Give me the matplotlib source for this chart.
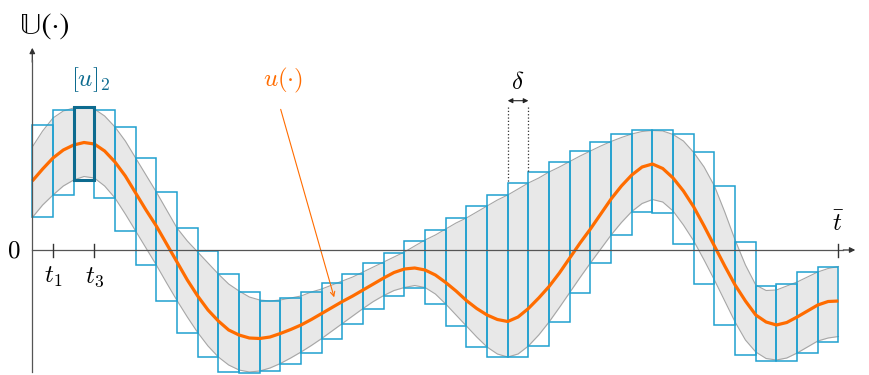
import numpy as np
import matplotlib.pyplot as plt

plt.rcParams['mathtext.fontset'] = 'cm'

# number of boxes (interval width delta = 1)
n_box = 39
t_s = np.linspace(0, n_box, 2 * n_box + 1)  # sample instants (edges + midpoints)

# nominal trajectory u(t)
u_mid = [6.9, 8.1, 9.2, 10.0, 10.5, 10.75, 10.6, 9.9, 8.8, 7.4,
         5.7, 4.0, 2.4, 0.6, -1.2, -3.0, -4.6, -6.0, -7.1, -8.0,
         -8.5, -8.8, -8.85, -8.7, -8.35, -7.95, -7.5, -6.95, -6.35, -5.75,
         -5.15, -4.6, -4.0, -3.4, -2.8, -2.25, -1.9, -1.8, -2.0, -2.5,
         -3.25, -4.1, -5.05, -5.85, -6.5, -6.95, -7.15, -6.7, -5.85, -4.8,
         -3.65, -2.3, -0.8, 0.7, 2.1, 3.6, 5.1, 6.4, 7.5, 8.3,
         8.6, 8.15, 7.2, 5.9, 4.3, 2.4, 0.4, -1.6, -3.5, -5.1,
         -6.5, -7.2, -7.5, -7.25, -6.7, -6.1, -5.5, -5.15, -5.1]

# upper / lower envelope of the tube
u_up = [10.3, 11.9, 13.2, 13.9, 14.2, 14.35, 14.1, 13.4, 12.3, 10.9,
        9.2, 7.5, 5.8, 4.0, 2.2, 0.9, -0.2, -1.3, -2.4, -3.4,
        -4.1, -4.7, -5.0, -5.1, -5.0, -4.8, -4.6, -4.2, -3.9, -3.5,
        -3.1, -2.7, -2.2, -1.7, -1.2, -0.7, -0.2, 0.4, 1.0, 1.5,
        2.1, 2.7, 3.2, 3.8, 4.4, 5.0, 5.5, 6.1, 6.7, 7.2,
        7.8, 8.3, 8.85, 9.4, 9.9, 10.4, 10.85, 11.25, 11.6, 11.85,
        11.95, 11.9, 11.55, 10.9, 9.75, 8.3, 6.4, 3.8, 1.0, -1.5,
        -3.5, -4.05, -4.0, -3.6, -3.2, -2.7, -2.2, -1.85, -1.65]
u_low = [3.25, 4.5, 5.5, 6.4, 7.0, 7.35, 7.2, 6.4, 5.2, 3.6,
         1.9, 0.2, -1.5, -3.3, -5.05, -6.7, -8.25, -9.6, -10.7, -11.5,
         -12.0, -12.2, -12.1, -11.8, -11.35, -10.8, -10.2, -9.55, -8.85, -8.1,
         -7.35, -6.6, -5.85, -5.15, -4.55, -4.05, -3.75, -3.55, -3.75, -4.4,
         -5.4, -6.5, -7.6, -8.7, -9.7, -10.4, -10.7, -10.4, -9.6, -8.5,
         -7.2, -5.75, -4.25, -2.75, -1.3, 0.1, 1.5, 2.75, 3.85, 4.65,
         5.05, 4.8, 3.9, 2.5, 0.9, -1.0, -3.0, -5.1, -7.2, -9.0,
         -10.2, -10.85, -11.0, -10.8, -10.3, -9.7, -9.1, -8.8, -8.65]

# interval enclosures [u]_k
box_top = [12.5, 14.0, 14.3, 14.0, 12.3, 9.2, 5.8, 2.2, -0.1, -2.4,
           -4.2, -5.1, -4.8, -4.2, -3.3, -2.4, -1.3, -0.3, 0.9, 2.0,
           3.2, 4.4, 5.5, 6.7, 7.8, 8.8, 9.9, 10.8, 11.6, 12.0,
           12.0, 11.6, 9.8, 6.4, 0.8, -3.6, -3.4, -2.2, -1.7]
box_bot = [3.3, 5.5, 7.0, 5.2, 1.9, -1.5, -5.1, -8.3, -10.7, -12.2,
           -12.3, -12.1, -11.4, -10.3, -8.9, -7.4, -5.9, -4.6, -3.8, -5.4,
           -7.6, -9.7, -10.7, -10.7, -9.6, -7.2, -4.3, -1.3, 1.5, 3.8,
           3.7, 0.6, -3.4, -7.5, -10.45, -11.1, -11.1, -10.3, -9.15]
k_hl = 2  # highlighted box [u]_2

c_box = '#1fa0cf'
c_hl = '#0d6b8f'
c_u = '#ff6c00'
c_ax = '#555555'

fig = plt.figure(figsize=(8.69, 3.75), dpi=100)
ax = fig.add_axes([0, 0, 1, 1])
ax.set_xlim(-1.5627, 40.478)
ax.set_ylim(-12.5, 25.0)
ax.axis('off')

# tube
ax.fill_between(t_s, u_low, u_up, color='#e8e8e8', lw=0, zorder=1)
ax.plot(t_s, u_up, color='#a6a6a6', lw=0.8, zorder=2)
ax.plot(t_s, u_low, color='#a6a6a6', lw=0.8, zorder=2)

# boxes
k = np.arange(n_box)
h = np.array(box_top) - np.array(box_bot)
ax.bar(k, h, bottom=box_bot, width=1, align='edge', fill=False,
       edgecolor=c_box, lw=1.1, zorder=3)
ax.bar(k_hl, h[k_hl], bottom=box_bot[k_hl], width=1, align='edge', fill=False,
       edgecolor=c_hl, lw=2.2, zorder=5)

# trajectory
ax.plot(t_s, u_mid, color=c_u, lw=2.3, zorder=4, solid_capstyle='butt')

# axes with arrows
ax.plot([0, 0], [-12.2, 19.0], color=c_ax, lw=0.9, zorder=6)
ax.annotate('', xy=(0, 20.5), xytext=(0, 18.5),
            arrowprops=dict(arrowstyle='-|>', color='#333333', lw=0.9, mutation_scale=8))
ax.plot([0, 39.2], [0, 0], color=c_ax, lw=0.9, zorder=6)
ax.annotate('', xy=(39.95, 0), xytext=(39.1, 0),
            arrowprops=dict(arrowstyle='-|>', color='#333333', lw=0.9, mutation_scale=8))
for tk in [1, 3, n_box]:
    ax.plot([tk, tk], [0.6, -0.7], color='#333333', lw=1.0, zorder=6)

fs = 18
ax.text(0.61, 22.3, '\U0001D54C(\u00b7)', fontsize=22, ha='center', va='center',
        family=['STIXGeneral', 'DejaVu Sans'])
ax.text(-0.88, 0.0, r'$0$', fontsize=fs, ha='center', va='center')
ax.text(1, -1.5, r'$t_1$', fontsize=fs, ha='center', va='top')
ax.text(3, -1.5, r'$t_3$', fontsize=fs, ha='center', va='top')
ax.text(n_box, 1.5, r'$\bar{t}$', fontsize=fs, ha='center', va='bottom')
ax.text(k_hl + 0.84, 17.0, r'$[u]_2$', fontsize=18, color=c_hl, ha='center', va='center')

# u(.) label and pointer
ax.text(12.13, 17.0, r'$u(\cdot)$', fontsize=fs, color=c_u, ha='center', va='center')
ax.annotate('', xy=(14.64, -5.0), xytext=(11.98, 14.33),
            arrowprops=dict(arrowstyle='->', color=c_u, lw=0.8, mutation_scale=8))

# delta marker
kd = 23
ax.plot([kd, kd], [14.33, box_top[kd]], ls=':', color='#333333', lw=0.9, zorder=6)
ax.plot([kd + 1, kd + 1], [14.33, box_top[kd + 1]], ls=':', color='#333333', lw=0.9, zorder=6)
ax.annotate('', xy=(kd, 14.93), xytext=(kd + 1, 14.93),
            arrowprops=dict(arrowstyle='<|-|>', color='#222222', lw=0.8,
                            mutation_scale=7, shrinkA=0, shrinkB=0))
ax.text(kd + 0.5, 16.8, r'$\delta$', fontsize=fs, ha='center', va='center')

plt.savefig('out.png', dpi=100)
